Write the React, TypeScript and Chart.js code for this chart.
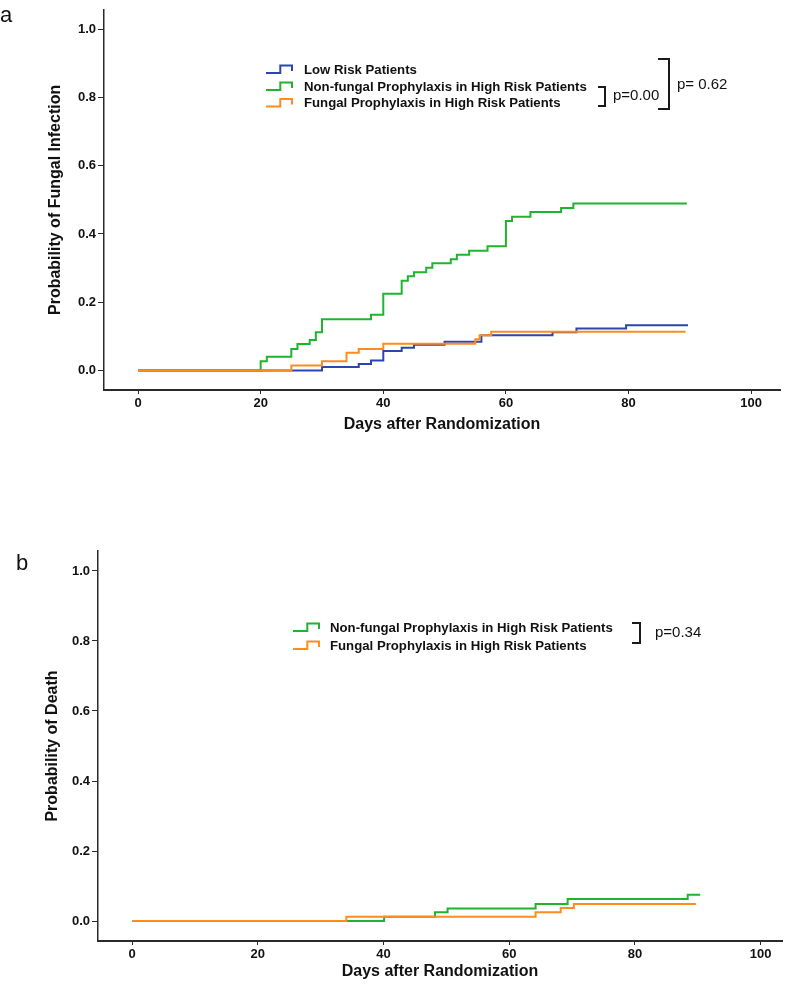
import React, { useEffect, useRef } from "react";
import { Chart, registerables } from "chart.js";

Chart.register(...registerables);

const FONT = '"Liberation Sans", Arial, Helvetica, sans-serif';

// ---------- shared ticks ----------
const xTickValues = [0, 20, 40, 60, 80, 100];
const yTickValues = [0, 0.2, 0.4, 0.6, 0.8, 1.0];

// ---------- panel a: probability of fungal infection ----------
const daysLowRiskA = [0, 30, 36, 38, 40, 43, 45, 50, 56, 67.6, 71.5, 79.6, 89.7];
const probLowRiskA = [0, 0.010, 0.019, 0.029, 0.057, 0.066, 0.075, 0.084, 0.103, 0.112, 0.123, 0.132, 0.132];

const daysNonFungalA = [0, 20, 21, 25, 26, 28, 29, 30, 38, 40, 43, 44, 45, 47, 48, 51, 52, 54, 57, 60, 61, 64, 69, 71, 89.5];
const probNonFungalA = [0, 0.027, 0.040, 0.063, 0.077, 0.089, 0.112, 0.150, 0.163, 0.225, 0.263, 0.276, 0.288, 0.301, 0.314, 0.326, 0.339, 0.351, 0.364, 0.438, 0.450, 0.464, 0.476, 0.489, 0.489];

const daysFungalA = [0, 25, 30, 34, 36, 40, 55, 55.7, 57.6, 89.3];
const probFungalA = [0, 0.014, 0.027, 0.052, 0.063, 0.078, 0.091, 0.103, 0.113, 0.113];

// ---------- panel b: probability of death ----------
const daysNonFungalB = [0, 40.1, 48.2, 50.2, 64.2, 69.3, 88.4, 90.4];
const probNonFungalB = [0, 0.012, 0.025, 0.036, 0.049, 0.063, 0.075, 0.075];

const daysFungalB = [0, 34.1, 64.2, 68.2, 70.3, 89.7];
const probFungalB = [0, 0.012, 0.025, 0.037, 0.049, 0.049];

// ---------- labels ----------
const legendLabelsA = [
  "Low Risk Patients",
  "Non-fungal Prophylaxis in High Risk Patients",
  "Fungal Prophylaxis in High Risk Patients",
];
const legendLabelsB = [
  "Non-fungal Prophylaxis in High Risk Patients",
  "Fungal Prophylaxis in High Risk Patients",
];
const pValueInnerA = "p=0.00";
const pValueOuterA = "p= 0.62";
const pValueB = "p=0.34";
const yTitleA = "Probability of Fungal Infection";
const yTitleB = "Probability of Death";
const xTitle = "Days after Randomization";

const COLOR_LOW = "#2b46b0";
const COLOR_NON = "#20b42e";
const COLOR_FUNGAL = "#ff8c1c";
const AXIS = "#2a2a2a";
const TEXT = "#111111";

function pts(days: number[], probs: number[]) {
  return days.map((d, i) => ({ x: d, y: probs[i] }));
}

function stepSymbol(ctx: CanvasRenderingContext2D, x0: number, x1: number, yc: number, color: string) {
  const xm = x0 + (x1 - x0) * 0.55;
  ctx.save();
  ctx.strokeStyle = color;
  ctx.lineWidth = 2;
  ctx.beginPath();
  ctx.moveTo(x0, yc + 3);
  ctx.lineTo(xm, yc + 3);
  ctx.lineTo(xm, yc - 4.5);
  ctx.lineTo(x1, yc - 4.5);
  ctx.lineTo(x1, yc + 1);
  ctx.stroke();
  ctx.restore();
}

function bracket(ctx: CanvasRenderingContext2D, xl: number, xr: number, yt: number, yb: number) {
  ctx.save();
  ctx.strokeStyle = "#1a1a1a";
  ctx.lineWidth = 2;
  ctx.beginPath();
  ctx.moveTo(xl, yt);
  ctx.lineTo(xr, yt);
  ctx.lineTo(xr, yb);
  ctx.lineTo(xl, yb);
  ctx.stroke();
  ctx.restore();
}

function makeDataset(label: string, days: number[], probs: number[], color: string, order: number) {
  return {
    label,
    data: pts(days, probs),
    borderColor: color,
    backgroundColor: color,
    borderWidth: 2,
    pointRadius: 0,
    pointHoverRadius: 0,
    stepped: true,
    tension: 0,
    fill: false,
    order,
  };
}

function axisOptions(opts: {
  xmin: number; xmax: number; ymin: number; ymax: number;
  yTitle: string; yWidth: number; yTitlePad: number; xHeight: number; xTitlePad: number;
}) {
  return {
    x: {
      type: "linear",
      min: opts.xmin,
      max: opts.xmax,
      afterBuildTicks: (s: any) => { s.ticks = xTickValues.map((v) => ({ value: v })); },
      afterFit: (s: any) => { s.height = opts.xHeight; },
      ticks: {
        callback: (v: any) => String(v),
        font: { family: FONT, size: 13, weight: "bold" },
        color: TEXT,
        padding: 2,
        maxRotation: 0,
        autoSkip: false,
      },
      grid: { drawOnChartArea: false, drawTicks: true, tickLength: 4, color: AXIS, lineWidth: 1 },
      border: { display: true, color: AXIS, width: 2 },
      title: {
        display: true,
        text: xTitle,
        font: { family: FONT, size: 16, weight: "bold" },
        color: TEXT,
        padding: { top: 0, bottom: opts.xTitlePad },
      },
    },
    y: {
      type: "linear",
      min: opts.ymin,
      max: opts.ymax,
      afterBuildTicks: (s: any) => { s.ticks = yTickValues.map((v) => ({ value: v })); },
      afterFit: (s: any) => { s.width = opts.yWidth; },
      ticks: {
        callback: (v: any) => Number(v).toFixed(1),
        font: { family: FONT, size: 13, weight: "bold" },
        color: TEXT,
        padding: 2,
        autoSkip: false,
      },
      grid: { drawOnChartArea: false, drawTicks: true, tickLength: 6, color: AXIS, lineWidth: 1 },
      border: { display: true, color: AXIS, width: 1.5 },
      title: {
        display: true,
        text: opts.yTitle,
        font: { family: FONT, size: 16, weight: "bold" },
        color: TEXT,
        padding: { top: opts.yTitlePad, bottom: 0 },
      },
    },
  };
}

const LEGEND_FONT = `bold 13.2px ${FONT}`;

const annotationsA = {
  id: "annotationsA",
  afterDraw(chart: any) {
    const ctx: CanvasRenderingContext2D = chart.ctx;
    ctx.save();
    ctx.fillStyle = TEXT;
    ctx.font = `22px ${FONT}`;
    ctx.textBaseline = "alphabetic";
    ctx.textAlign = "left";
    ctx.fillText("a", 0, 22);

    const rows = [70, 87, 103.5];
    const colors = [COLOR_LOW, COLOR_NON, COLOR_FUNGAL];
    ctx.font = LEGEND_FONT;
    ctx.textBaseline = "middle";
    rows.forEach((yc, i) => {
      stepSymbol(ctx, 266, 292, yc, colors[i]);
      ctx.fillStyle = TEXT;
      ctx.fillText(legendLabelsA[i], 304, yc);
    });
    bracket(ctx, 598, 605, 87, 106);
    bracket(ctx, 658, 669, 59, 109);
    ctx.font = `15px ${FONT}`;
    ctx.fillStyle = TEXT;
    ctx.fillText(pValueInnerA, 613, 96);
    ctx.fillText(pValueOuterA, 677, 85);
    ctx.restore();
  },
};

const annotationsB = {
  id: "annotationsB",
  afterDraw(chart: any) {
    const ctx: CanvasRenderingContext2D = chart.ctx;
    ctx.save();
    ctx.fillStyle = TEXT;
    ctx.font = `22px ${FONT}`;
    ctx.textBaseline = "alphabetic";
    ctx.textAlign = "left";
    ctx.fillText("b", 16, 90);

    const rows = [148, 166];
    const colors = [COLOR_NON, COLOR_FUNGAL];
    ctx.font = LEGEND_FONT;
    ctx.textBaseline = "middle";
    rows.forEach((yc, i) => {
      stepSymbol(ctx, 293, 319, yc, colors[i]);
      ctx.fillStyle = TEXT;
      ctx.fillText(legendLabelsB[i], 330, yc);
    });
    bracket(ctx, 632, 640, 143, 163);
    ctx.font = `15px ${FONT}`;
    ctx.fillStyle = TEXT;
    ctx.fillText(pValueB, 655, 153);
    ctx.restore();
  },
};

export default function App() {
  const refA = useRef<HTMLCanvasElement | null>(null);
  const refB = useRef<HTMLCanvasElement | null>(null);

  useEffect(() => {
    const chartA = new Chart(refA.current as HTMLCanvasElement, {
      type: "line",
      data: {
        datasets: [
          makeDataset(legendLabelsA[2], daysFungalA, probFungalA, COLOR_FUNGAL, 1),
          makeDataset(legendLabelsA[1], daysNonFungalA, probNonFungalA, COLOR_NON, 2),
          makeDataset(legendLabelsA[0], daysLowRiskA, probLowRiskA, COLOR_LOW, 3),
        ],
      },
      options: {
        animation: false,
        responsive: false,
        devicePixelRatio: 1,
        layout: { padding: { left: 0, right: 14, top: 2, bottom: 40 } },
        plugins: { legend: { display: false }, tooltip: { enabled: false } },
        scales: axisOptions({
          xmin: -5.55, xmax: 104.7, ymin: -0.0575, ymax: 1.057,
          yTitle: yTitleA, yWidth: 104, yTitlePad: 46, xHeight: 50, xTitlePad: 6,
        }),
      } as any,
      plugins: [annotationsA],
    } as any);

    const chartB = new Chart(refB.current as HTMLCanvasElement, {
      type: "line",
      data: {
        datasets: [
          makeDataset(legendLabelsB[1], daysFungalB, probFungalB, COLOR_FUNGAL, 1),
          makeDataset(legendLabelsB[0], daysNonFungalB, probNonFungalB, COLOR_NON, 2),
        ],
      },
      options: {
        animation: false,
        responsive: false,
        devicePixelRatio: 1,
        layout: { padding: { left: 0, right: 12, top: 71, bottom: 6 } },
        plugins: { legend: { display: false }, tooltip: { enabled: false } },
        scales: axisOptions({
          xmin: -5.41, xmax: 103.4, ymin: -0.057, ymax: 1.057,
          yTitle: yTitleB, yWidth: 98, yTitlePad: 43, xHeight: 40, xTitlePad: 0,
        }),
      } as any,
      plugins: [annotationsB],
    } as any);

    return () => {
      chartA.destroy();
      chartB.destroy();
    };
  }, []);

  return (
    <div style={{ position: "fixed", left: 0, top: 0, width: 794, height: 987, background: "#ffffff" }}>
      <canvas ref={refA} width={794} height={480} style={{ position: "absolute", left: 0, top: 0, width: 794, height: 480 }} />
      <canvas ref={refB} width={794} height={507} style={{ position: "absolute", left: 0, top: 480, width: 794, height: 507 }} />
    </div>
  );
}
